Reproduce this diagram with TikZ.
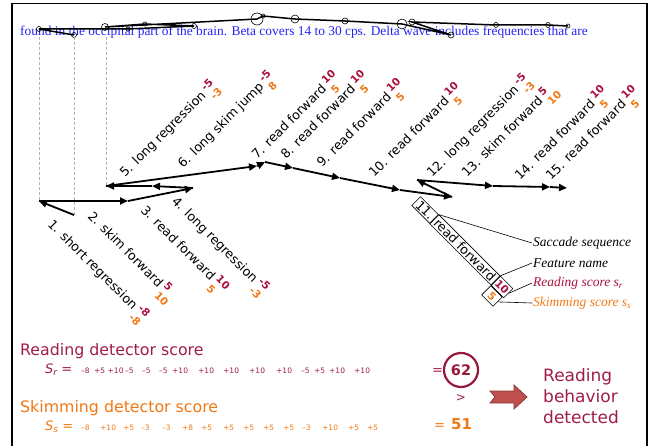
\documentclass[tikz,border=0pt]{standalone}
\usepackage{fontspec}
\setmainfont{Liberation Serif}
\setsansfont{DejaVu Sans}
\usetikzlibrary{arrows.meta,calc}
\definecolor{rd}{RGB}{170,15,60}
\definecolor{og}{RGB}{240,120,20}
\definecolor{tb}{RGB}{35,35,245}
\definecolor{cr}{RGB}{150,25,60}
\definecolor{hd}{RGB}{160,30,70}
\definecolor{arF}{RGB}{192,80,77}
\definecolor{arD}{RGB}{140,56,54}
\newcommand\twoscore[2]{\hspace{3pt}\rlap{\raisebox{4.5pt}{\textcolor{rd}{\fontsize{10.5}{12}\selectfont\bfseries #1}}}\raisebox{-8.8pt}{\textcolor{og}{\fontsize{10.5}{12}\selectfont\bfseries #2}}}
\begin{document}
\begin{tikzpicture}[x=1pt,y=-1pt,
  lab/.style={font=\sffamily\fontsize{12.7}{14}\selectfont, inner sep=0pt, anchor=base west},
  uplab/.style={lab, rotate=45},
  dnlab/.style={lab, rotate=-45},
  sac/.style={line width=1.8pt, -{Triangle[length=8pt,width=7pt]}},
  mini/.style={line width=1.5pt},
  fix/.style={line width=0.6pt},
  guide/.style={draw=black!30, line width=0.7pt, dash pattern=on 3pt off 2pt},
  lbox/.style={draw, line width=0.6pt, font=\sffamily\fontsize{12.7}{14}\selectfont, inner xsep=2.5pt, inner ysep=1.5pt, rotate=-45},
  sbox/.style={draw, line width=0.6pt, font=\sffamily\bfseries\fontsize{10.5}{12}\selectfont, inner sep=1.5pt, minimum width=16pt, minimum height=13pt, rotate=-45},
  leg/.style={font=\rmfamily\itshape\fontsize{13.5}{15}\selectfont, inner sep=1pt, anchor=west},
  tok/.style={font=\sffamily\fontsize{7.5}{8}\selectfont, inner sep=0pt, anchor=base west},
  big/.style={font=\sffamily\fontsize{15.8}{18}\selectfont, inner sep=0pt, anchor=base west},
  res/.style={font=\sffamily\fontsize{17}{21}\selectfont, inner sep=0pt, anchor=base west, text=hd}]
\useasboundingbox (0,0) rectangle (652,446);

% frame
\draw[line width=0.8pt] (12,3) -- (647,3);
\draw[line width=1.8pt] (12,3) -- (12,446);
\draw[line width=1.8pt] (647,3) -- (647,446);

% mini scanpath over text
\node[font=\rmfamily\fontsize{13.4}{15}\selectfont, text=tb, anchor=base west, inner sep=0pt] (txt) at (20,35.5)
  {found in the occipital part of the brain. Beta covers 14 to 30 cps. Delta wave includes frequencies that are};
\coordinate (m0) at (74,35);
\coordinate (m1) at (39,29);
\coordinate (m2) at (128,29);
\coordinate (m3) at (194,26);
\coordinate (m4) at (145,24);
\coordinate (m5) at (105,27);
\coordinate (m6) at (257,19);
\coordinate (m7) at (263,16);
\coordinate (m8) at (295,19);
\coordinate (m9) at (345,21);
\coordinate (m10) at (402,24);
\coordinate (m11) at (451,35);
\coordinate (m12) at (412,22);
\coordinate (m13) at (496,25);
\coordinate (m14) at (548,25);
\coordinate (m15) at (568,26);
\draw[mini] (m0) -- (m1) -- (m2) -- (m3) -- (m4) -- (m5) -- (m6) -- (m7) -- (m8) -- (m9) -- (m10) -- (m11) -- (m12) -- (m13) -- (m14) -- (m15);
\foreach \m/\r in {0/2.5,1/2.5,2/2,3/2.5,4/2,5/3.5,6/6,7/2,8/4,9/3,10/5,11/3,12/3,13/2.5,14/2.5,15/2}
  \draw[fix] (m\m) circle[radius=\r];

% main scanpath
\coordinate (f0) at (74,215);
\coordinate (f1) at (39,201);
\coordinate (f2) at (128,201);
\coordinate (f3) at (193,188);
\coordinate (f4) at (152,186);
\coordinate (f5) at (106,186);
\coordinate (f6) at (257,166);
\coordinate (f7) at (265,162);
\coordinate (f8) at (293,168);
\coordinate (f9) at (340,178);
\coordinate (f10) at (400,190);
\coordinate (f11) at (452,197);
\coordinate (f12) at (417,180);
\coordinate (f13) at (493,186);
\coordinate (f14) at (550,187);
\coordinate (f15) at (567,188);

% guides
\coordinate (g1) at (39,37);
\coordinate (g0) at (74,37);
\coordinate (g5) at (106,37);
\draw[guide] (g1) -- (f1);
\draw[guide] (g0) -- (f0);
\draw[guide] (g5) -- (f5);

\foreach \a/\b in {0/1,1/2,2/3,3/4,4/5,5/6,6/7,7/8,8/9,9/10,10/11,11/12,12/13,13/14,14/15}
  \draw[sac] (f\a) -- (f\b);

% labels below
\node[dnlab] (s1) at (47,225) {1. short regression\twoscore{-8}{-8}};
\node[dnlab] (s2) at (87,217) {2. skim forward\twoscore{5}{10}};
\node[dnlab] (s3) at (140,211) {3. read forward\twoscore{10}{5}};
\node[dnlab] (s4) at (171,202) {4. long regression\twoscore{-5}{-3}};
% labels above
\node[uplab] (s5) at (125,178) {5. long regression\twoscore{-5}{-3}};
\node[uplab] (s6) at (183,169) {6. long skim jump\twoscore{-5}{8}};
\node[uplab] (s7) at (257,160) {7. read forward\twoscore{10}{5}};
\node[uplab] (s8) at (286,160) {8. read forward\twoscore{10}{5}};
\node[uplab] (s9) at (322,168) {9. read forward\twoscore{10}{5}};
\node[uplab] (s10) at (374,178) {10. read forward\twoscore{10}{5}};
\node[uplab] (s12) at (432,178) {12. long regression\twoscore{-5}{-3}};
\node[uplab] (s13) at (467,178) {13. skim forward\twoscore{5}{10}};
\node[uplab] (s14) at (520,181) {14. read forward\twoscore{10}{5}};
\node[uplab] (s15) at (551,181) {15. read forward\twoscore{10}{5}};

% legend
\node[lbox, anchor=center] (l11) at (425,210) {11.};
\node[lbox, anchor=west] (lname) at (l11.east) {read forward};
\node[sbox, anchor=south west, text=rd] (l10) at (lname.south east) {10};
\node[sbox, anchor=north west, text=og] (l5) at (l10.south west) {5};
\coordinate (c1) at (532,243);
\coordinate (c2) at (532,263);
\coordinate (c3) at (532,283);
\coordinate (c4) at (532,303);
\draw[line width=0.6pt] (l11.north east) -- (c1);
\draw[line width=0.6pt] (lname.north east) -- (c2);
\draw[line width=0.6pt] (l10.east) -- (c3);
\draw[line width=0.6pt] (l5.east) -- (c4);
\node[leg] (t1) at (c1) {Saccade sequence};
\node[leg] (t2) at (c2) {Feature name};
\node[leg, text=rd] (t3) at (c3) {Reading score \textit{s\raisebox{-2pt}{\fontsize{9}{9}\selectfont r}}};
\node[leg, text=og] (t4) at (c4) {Skimming score \textit{s\raisebox{-2pt}{\fontsize{9}{9}\selectfont s}}};

% detector scores
\node[big, text=hd] (h1) at (20,355) {Reading detector score};
\node[big, text=og] (h2) at (20,412) {Skimming detector score};
\node[anchor=base west, inner sep=0pt, text=hd, font=\sffamily\fontsize{13}{15}\selectfont] (sr) at (45,373) {\itshape S\raisebox{-2.5pt}{\fontsize{9}{9}\selectfont r}\upshape\ =};
\node[anchor=base west, inner sep=0pt, text=og, font=\sffamily\fontsize{13}{15}\selectfont] (ss) at (45,430) {\itshape S\raisebox{-2.5pt}{\fontsize{9}{9}\selectfont s}\upshape\ =};
\foreach \x/\t [count=\i] in {81/–8,94/+5,107.5/+10,125/–5,142/–5,159/–5,172/+10,198/+10,223/+10,249/+10,276/+10,301/–5,314/+5,329/+10,354/+10}
  \node[tok, text=hd] (r\i) at (\x,373) {\t};
\foreach \x/\t [count=\i] in {81/–8,100/+10,123/+5,141/–3,162/–3,182/+8,201/+5,223/+5,243/+5,263/+5,283/+5,302/–3,322/+10,348/+5,367/+5}
  \node[tok, text=og] (k\i) at (\x,430) {\t};
\node[anchor=base west, inner sep=0pt, text=hd, font=\sffamily\fontsize{13}{15}\selectfont] (eq1) at (432,374) {=};
\node[circle, draw=cr, line width=2.2pt, minimum size=34pt, inner sep=0pt, text=cr, font=\sffamily\bfseries\fontsize{14.5}{16}\selectfont] (v62) at (461,370) {62};
\node[inner sep=0pt, text=hd, font=\sffamily\fontsize{12}{14}\selectfont] (gt) at (461,398) {>};
\node[anchor=base west, inner sep=0pt, text=og, font=\sffamily\fontsize{13}{15}\selectfont] (eq2) at (434,429) {=};
\node[anchor=base west, inner sep=0pt, text=og, font=\sffamily\bfseries\fontsize{15}{17}\selectfont] (v51) at (451,429) {51};

% block arrow
\coordinate (a0) at (490,391);
\draw[fill=arF, draw=arD, line width=0.8pt] (a0) -- (514,391) -- (514,385) -- (527,397) -- (514,409) -- (514,403) -- (490,403) -- (495,397) -- cycle;

\node[res] (o1) at (543,381) {Reading};
\node[res] (o2) at (543,402) {behavior};
\node[res] (o3) at (543,423) {detected};
\end{tikzpicture}
\end{document}
